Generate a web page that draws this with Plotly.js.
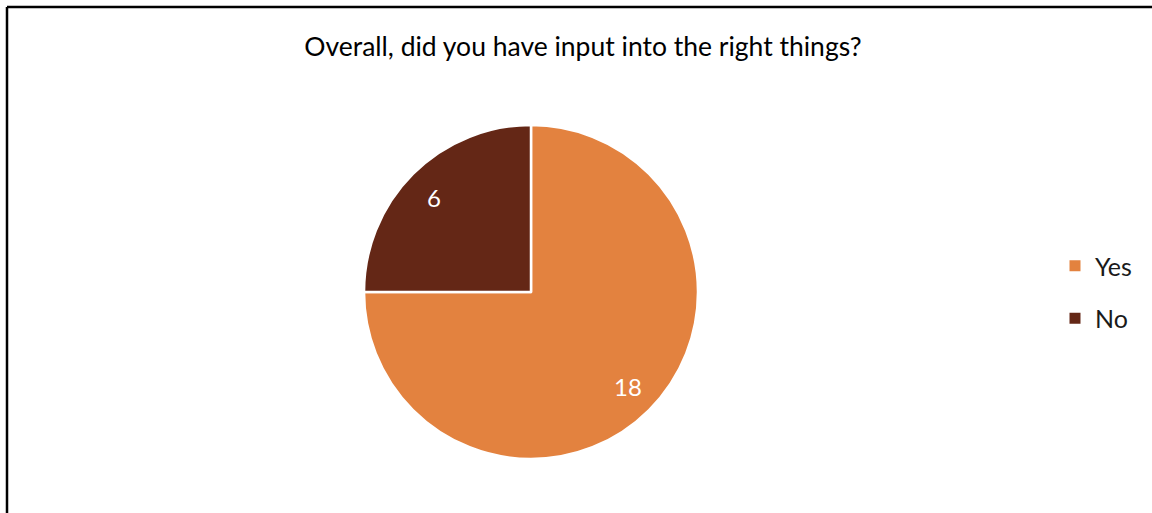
<!DOCTYPE html>
<html><head><meta charset="utf-8">
<script src="https://cdn.plot.ly/plotly-3.0.1.min.js"></script>
<style>html,body{margin:0;padding:0;background:#fff}#chart{width:1152px;height:513px}</style>
</head><body><div id="chart"></div>
<script>
const labels = ["Yes", "No"];
const values = [18, 6];
const colors = ["#E3823F", "#642716"];

const W = 1152, H = 513;
const cx = 531, cy = 292, r = 167;
const FONT = "Lato, 'Open Sans', sans-serif";

const data = [{
  type: "pie",
  labels: labels,
  values: values,
  sort: false,
  direction: "clockwise",
  rotation: 0,
  marker: {colors: colors, line: {color: "#ffffff", width: 2.5}},
  textinfo: "none",
  domain: {x: [(cx - r) / W, (cx + r) / W], y: [1 - (cy + r) / H, 1 - (cy - r) / H]},
  hoverinfo: "none",
  showlegend: false
}];

// legend entries as separate groups so spacing can be controlled
labels.forEach((lab, i) => {
  data.push({
    type: "scatter", mode: "markers", x: [null], y: [null],
    name: lab, legendgroup: lab, showlegend: true,
    marker: {symbol: "square", size: 11, color: colors[i]},
    hoverinfo: "none"
  });
});

// data labels positioned from the slice values (mid-angle, ~0.81 radius)
const total = values.reduce((a, b) => a + b, 0);
let cum = 0;
const annotations = values.map((v) => {
  const mid = (cum + v / 2) / total * 2 * Math.PI;
  cum += v;
  const px = cx + 0.82 * r * Math.sin(mid);
  const py = cy - 0.80 * r * Math.cos(mid);
  return {xref: "paper", yref: "paper", x: px / W, y: 1 - py / H,
          xanchor: "center", yanchor: "middle", showarrow: false,
          text: String(v), font: {family: FONT, size: 24, color: "#ffffff"}};
});

const layout = {
  width: W, height: H,
  margin: {l: 0, r: 0, t: 0, b: 0},
  paper_bgcolor: "#ffffff",
  plot_bgcolor: "rgba(0,0,0,0)",
  xaxis: {visible: false, range: [0, 1]},
  yaxis: {visible: false, range: [0, 1]},
  title: {text: "Overall, did you have input into the right things?",
          font: {family: FONT, size: 26.5, color: "#000000"},
          x: 583 / W, xanchor: "center", y: 1 - 47 / H, yanchor: "middle"},
  showlegend: true,
  legend: {x: 1055 / W, xanchor: "left", y: 1 - 292 / H, yanchor: "middle",
           font: {family: FONT, size: 25, color: "#1a1a1a"},
           tracegroupgap: 17, itemwidth: 30, bgcolor: "rgba(0,0,0,0)"},
  annotations: annotations,
  shapes: [
    {type: "line", xref: "paper", yref: "paper", x0: 7 / W, x1: 1, y0: 1 - 7 / H, y1: 1 - 7 / H, line: {color: "#000", width: 2.5}},
    {type: "line", xref: "paper", yref: "paper", x0: 7 / W, x1: 7 / W, y0: 0, y1: 1 - 7 / H, line: {color: "#000", width: 2.5}}
  ]
};

Plotly.newPlot("chart", data, layout, {displayModeBar: false, staticPlot: true});
</script></body></html>
